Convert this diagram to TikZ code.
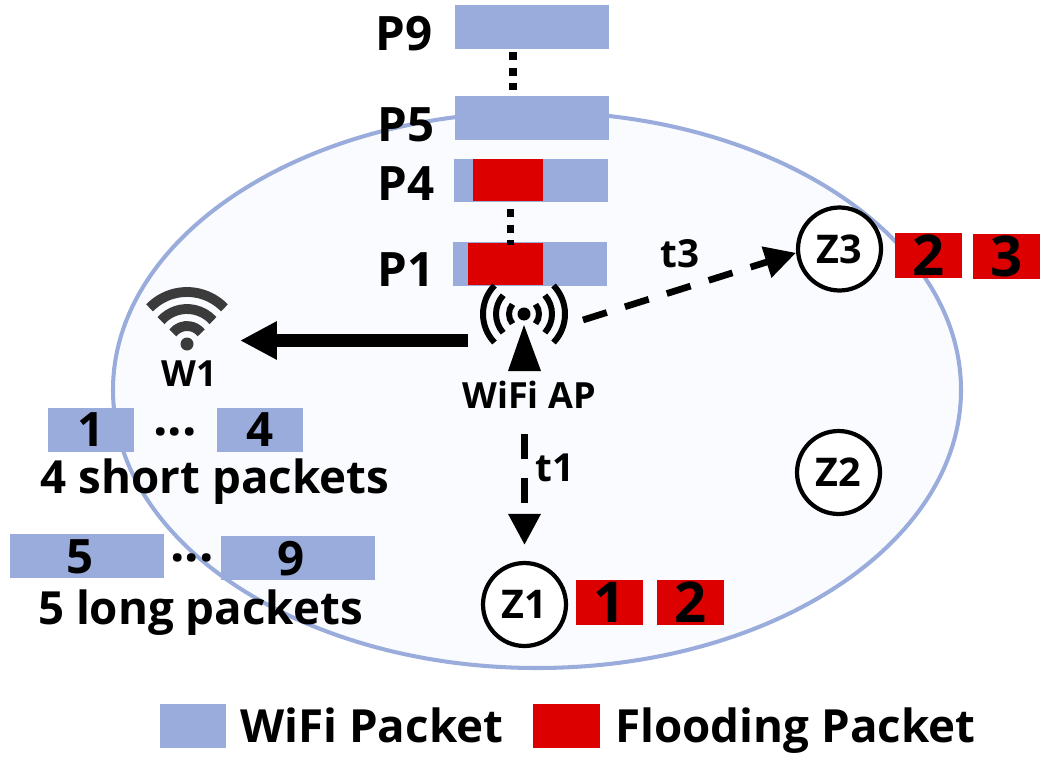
\documentclass[tikz,border=0pt]{standalone}
\usepackage{fontspec}
\setmainfont{Open Sans}
\usetikzlibrary{arrows.meta,positioning}
\definecolor{wifiblue}{RGB}{153,172,219}
\definecolor{floodred}{RGB}{221,0,0}
\definecolor{zonefill}{RGB}{250,251,254}
\definecolor{icongray}{RGB}{59,59,59}
\tikzset{
  pktbox/.style={fill=wifiblue,draw=none,inner sep=0pt,minimum width=3.08cm,minimum height=0.88cm,font=\fontsize{27}{27}\bfseries\selectfont},
  shortbox/.style={pktbox,minimum width=1.72cm},
  redbox/.style={fill=floodred,draw=none,inner sep=0pt,minimum width=1.34cm,minimum height=0.9cm,font=\fontsize{32}{32}\bfseries\selectfont},
  legendbox/.style={inner sep=0pt,minimum width=1.34cm,minimum height=0.88cm},
  biglabel/.style={inner sep=0pt,font=\fontsize{26}{26}\bfseries\selectfont},
  dotslabel/.style={inner sep=0pt,font=\fontsize{29}{29}\bfseries\selectfont},
  plabel/.style={inner sep=0pt,font=\fontsize{27}{27}\bfseries\selectfont},
  smalllabel/.style={inner sep=0pt,font=\fontsize{20.5}{20.5}\bfseries\selectfont},
  tlabel/.style={inner sep=0pt,font=\fontsize{22}{22}\bfseries\selectfont},
  zone/.style={circle,draw=black,line width=2.4pt,fill=white,minimum size=1.66cm,inner sep=0pt,font=\fontsize{22.5}{22.5}\bfseries\selectfont},
  dashlink/.style={line width=3.8pt,dash pattern=on 14.2pt off 10.8pt,-{Triangle[length=0.62cm,width=0.62cm]}},
  dotlink/.style={line width=4.5pt,dash pattern=on 4.5pt off 4.4pt},
}
\begin{document}
\begin{tikzpicture}[x=0.02cm,y=-0.02cm]
\useasboundingbox (0,0) rectangle (1050,767);
% Coverage area
\draw[wifiblue,fill=zonefill,line width=2.3pt] (537,390) ellipse (424 and 278);
% Packet queue
\node[pktbox] (p9) at (532,27) {};
\node[pktbox] (p5) at (532,118) {};
\node[pktbox] (p4) at (531,180.5) {};
\node[pktbox] (p1) at (530,264) {};
\node[fill=floodred,inner sep=0pt,minimum width=1.4cm,minimum height=0.86cm] (f4) at (508,180) {};
\node[fill=floodred,inner sep=0pt,minimum width=1.5cm,minimum height=0.84cm] (f1) at (505.5,264) {};
\node[plabel] (l9) at (404,34) {P9};
\node[plabel] (l5) at (406,125) {P5};
\node[plabel] (l4) at (406,184) {P4};
\node[plabel] (l1) at (406,270) {P1};
\coordinate (d9) at (513,52);
\coordinate (d5) at (513,90);
\coordinate (d4) at (510.5,209);
\coordinate (d1) at (510.5,245);
\draw[dotlink] (d9) -- (d5);
\draw[dotlink] (d4) -- (d1);
% AP antenna
\fill (524,325) -- (541,371) -- (508,371) -- cycle;
\fill (524,314) circle (6.5);
\foreach \r/\w in {15/40,28/42,41/44}{
  \draw[line width=3.4pt] ([shift={(-\w:\r)}]524,314) arc[start angle=-\w,end angle=\w,radius=\r];
  \draw[line width=3.4pt] ([shift={(180-\w:\r)}]524,314) arc[start angle=180-\w,end angle=180+\w,radius=\r];
}
\node[smalllabel] (ap) at (529,395) {WiFi AP};
% W1 icon
\fill[icongray] (187,344) circle (6.5);
\foreach \r/\a in {18/52,35/48,52/46}{
  \draw[icongray,line width=5.6pt] ([shift={(-90-\a:\r)}]187,344) arc[start angle=-90-\a,end angle=-90+\a,radius=\r];
}
\node[smalllabel] (w1) at (189,374) {W1};
\coordinate (apw) at (468,340.5);
\coordinate (wap) at (240,340.5);
\draw[line width=7.4pt,-{Triangle[length=0.74cm,width=0.72cm]}] (apw) -- (wap);
% Zones
\node[zone] (z3) at (839.5,249) {Z3};
\node[zone] (z2) at (838.5,472.5) {Z2};
\node[zone] (z1) at (524.5,604.5) {Z1};
\coordinate (apr) at (583,320);
\coordinate (apb) at (524.5,434);
\draw[dashlink] (apr) -- (z3.185);
\draw[dashlink,shorten >=0.32cm] (apb) -- (z1);
\node[tlabel] (t3) at (680,254) {t3};
\node[tlabel] (t1) at (555,468) {t1};
\node[redbox] (r2) at (928.5,255.5) {2};
\node[redbox] (r3) at (1006.5,256.5) {3};
\node[redbox] (r1) at (609.5,602.5) {1};
\node[redbox] (r4) at (690.5,602.5) {2};
% Short and long packets
\node[shortbox] (s1) at (91,430) {1};
\node[shortbox] (s4) at (260,430) {4};
\node[dotslabel] (dots1) at (175,432) {...};
\node[biglabel] (lshort) at (215,482) {4 short packets};
\node[pktbox] (b5) at (87,556) {};
\node[pktbox] (b9) at (298,558) {};
\node[plabel] (n5) at (80,557) {5};
\node[plabel] (n9) at (291,559) {9};
\node[dotslabel] (dots2) at (192,558) {...};
\node[biglabel] (llong) at (200.5,613) {5 long packets};
% Legend
\node[legendbox,fill=wifiblue] (lgw) at (193,726) {};
\node[biglabel,anchor=base west] (lgwt) at (240,742) {WiFi Packet};
\node[legendbox,fill=floodred] (lgf) at (566.5,726) {};
\node[biglabel,anchor=base west] (lgft) at (615,742) {Flooding Packet};
\end{tikzpicture}
\end{document}
